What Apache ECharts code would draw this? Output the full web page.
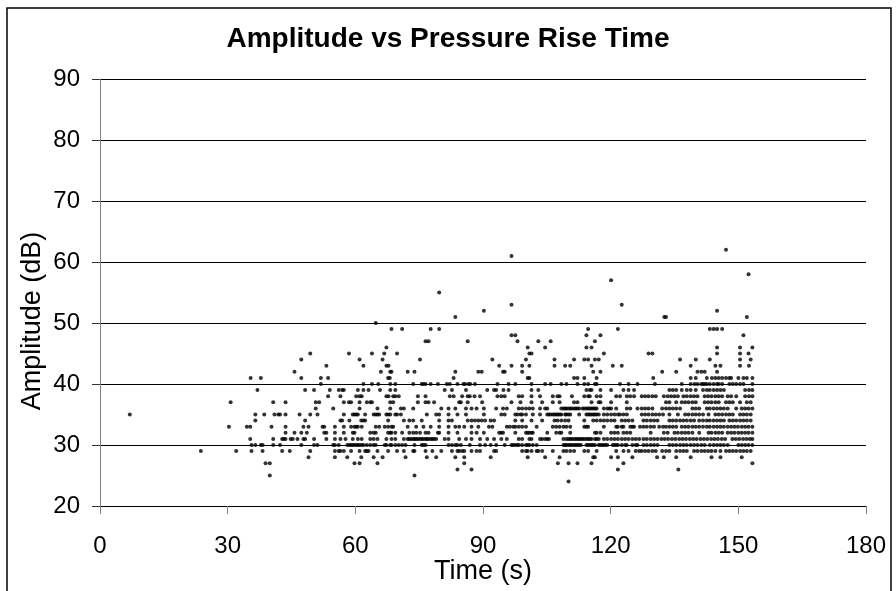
<!DOCTYPE html>
<html>
<head>
<meta charset="utf-8">
<script src="https://cdn.jsdelivr.net/npm/echarts@6/dist/echarts.min.js"></script>
<style>
html,body{margin:0;padding:0;background:#fff;}
#chart{width:896px;height:591px;}
</style>
</head>
<body>
<div id="chart"></div>
<script>
// Time (s) values of the points, one array per amplitude level (dB)
const t24 = [110.1];
const t25 = [39.9, 73.9];
const t26 = [84.0, 87.3, 121.7, 135.9];
const t27 = [38.9, 39.9, 59.8, 61.0, 65.2, 85.6, 107.6, 110.1, 112.2, 115.5, 123.0, 153.3];
const t28 = [49.0, 55.2, 58.1, 61.4, 64.3, 66.4, 71.8, 76.8, 79.0, 83.5, 85.6, 91.8, 100.5, 104.6, 108.0, 115.9, 116.3, 120.1, 121.7, 125.1, 130.9, 132.5, 135.4, 138.8, 143.7, 145.8, 150.8];
const t29 = [23.7, 32.0, 35.6, 38.2, 42.8, 44.6, 49.4, 55.2, 56.1, 56.5, 57.3, 59.0, 61.0, 62.3, 62.7, 63.1, 65.2, 67.7, 69.8, 71.4, 73.6, 73.9, 76.5, 78.1, 80.2, 82.7, 84.0, 84.4, 85.1, 85.6, 87.3, 88.5, 89.3, 92.6, 93.1, 99.2, 100.1, 100.5, 101.4, 102.6, 103.0, 103.9, 106.4, 108.9, 109.6, 110.5, 111.4, 113.8, 114.7, 116.7, 121.3, 123.0, 124.2, 125.9, 126.7, 127.3, 128.1, 128.9, 129.8, 130.6, 132.1, 133.0, 133.8, 135.4, 136.3, 137.1, 137.9, 139.6, 140.4, 141.3, 142.1, 142.9, 143.7, 144.6, 145.8, 147.1, 147.9, 148.7, 149.5, 150.4, 151.2, 152.0, 152.9];
const t30 = [35.6, 36.5, 37.8, 38.2, 40.7, 42.3, 47.3, 50.3, 51.1, 54.8, 55.2, 56.1, 58.1, 58.6, 59.0, 59.4, 59.8, 60.2, 60.6, 61.0, 61.5, 61.9, 62.7, 63.5, 64.3, 64.8, 66.9, 67.3, 68.2, 68.5, 69.4, 70.2, 71.0, 71.8, 73.9, 75.6, 76.0, 76.5, 81.9, 82.7, 83.5, 84.0, 84.8, 86.9, 89.3, 90.5, 91.8, 93.1, 95.1, 96.7, 97.1, 97.6, 98.1, 98.4, 99.2, 100.1, 100.5, 100.9, 101.7, 102.6, 108.9, 109.3, 109.6, 110.1, 110.5, 110.9, 111.4, 111.8, 112.2, 112.6, 113.0, 114.3, 114.7, 115.1, 115.5, 115.9, 116.3, 117.2, 117.6, 118.0, 118.4, 118.8, 119.2, 120.5, 120.9, 121.3, 121.7, 122.6, 123.4, 123.8, 125.1, 125.9, 126.3, 127.7, 128.5, 129.4, 130.2, 131.0, 133.8, 134.6, 135.4, 136.3, 137.1, 137.9, 138.8, 139.6, 140.4, 141.3, 142.1, 143.3, 144.2, 145.0, 145.8, 146.6, 147.5, 150.0, 150.8, 151.6, 152.4, 153.3];
const t31 = [35.3, 40.7, 42.8, 43.2, 43.6, 44.8, 45.3, 46.4, 47.8, 48.2, 50.3, 53.2, 55.2, 56.5, 57.7, 59.4, 60.6, 61.5, 63.5, 64.3, 65.2, 67.3, 68.5, 69.4, 71.4, 72.3, 72.7, 73.1, 73.6, 73.9, 74.3, 74.7, 75.2, 75.6, 76.0, 76.5, 76.8, 77.2, 77.7, 78.1, 78.5, 79.0, 81.0, 81.9, 84.4, 86.0, 87.3, 89.3, 91.0, 92.6, 94.3, 95.6, 98.4, 99.2, 100.9, 101.4, 103.4, 103.9, 104.6, 105.1, 105.5, 108.9, 109.6, 110.1, 110.5, 110.9, 111.4, 111.8, 112.2, 112.6, 113.0, 113.4, 113.8, 114.3, 114.7, 115.1, 115.5, 116.3, 116.7, 117.2, 118.4, 119.2, 120.1, 120.9, 121.7, 122.6, 123.4, 124.2, 125.1, 125.9, 126.7, 127.7, 128.5, 129.4, 130.2, 131.0, 131.9, 132.7, 133.5, 134.4, 135.2, 136.1, 136.9, 137.7, 138.6, 139.4, 140.2, 141.1, 141.9, 142.7, 143.6, 144.4, 145.2, 146.1, 146.9, 148.6, 149.4, 150.2, 151.1, 151.9, 152.7, 153.3];
const t32 = [43.6, 45.7, 47.3, 48.6, 52.7, 53.2, 55.2, 57.3, 59.4, 59.8, 63.5, 64.3, 64.8, 67.7, 68.2, 68.5, 69.4, 71.0, 72.7, 73.6, 74.3, 75.2, 76.5, 77.2, 79.4, 79.7, 81.9, 84.0, 87.3, 88.5, 90.2, 93.8, 94.3, 94.7, 97.6, 100.1, 100.5, 100.9, 101.4, 101.7, 105.1, 107.2, 108.0, 108.4, 110.5, 116.3, 116.7, 117.6, 120.1, 120.9, 121.7, 123.0, 123.8, 124.6, 129.4, 132.5, 133.4, 135.0, 135.8, 136.7, 137.5, 138.3, 139.2, 140.8, 143.0, 143.7, 144.6, 145.4, 146.2, 147.5, 148.3, 149.1, 150.0, 150.8, 151.6, 152.4, 153.3];
const t33 = [30.3, 34.5, 35.3, 40.3, 43.6, 47.8, 49.0, 52.3, 52.7, 55.2, 57.3, 59.0, 59.8, 60.2, 60.6, 61.5, 64.8, 65.6, 66.9, 67.7, 68.5, 68.9, 72.3, 74.3, 76.0, 77.7, 79.7, 81.9, 83.5, 84.4, 85.6, 87.3, 88.9, 91.4, 92.2, 95.6, 96.3, 97.1, 97.6, 98.4, 99.2, 100.1, 102.6, 106.4, 107.2, 108.0, 108.9, 109.6, 110.5, 113.8, 114.3, 114.7, 118.4, 121.3, 121.7, 122.6, 123.0, 124.6, 125.1, 125.5, 126.9, 127.7, 128.5, 129.4, 130.2, 131.4, 132.3, 133.0, 133.8, 134.6, 135.4, 136.7, 137.5, 138.3, 139.2, 140.0, 140.8, 141.7, 142.6, 143.3, 144.2, 145.0, 145.8, 146.6, 147.5, 148.3, 149.1, 149.9, 150.8, 151.6, 152.4, 153.3];
const t34 = [36.5, 48.2, 56.5, 56.9, 58.6, 61.4, 61.9, 62.3, 67.7, 71.4, 72.7, 73.6, 75.6, 79.7, 81.9, 82.7, 86.4, 87.3, 88.1, 88.9, 89.7, 90.5, 91.8, 92.6, 97.6, 99.2, 101.4, 103.9, 106.8, 107.5, 108.4, 109.3, 110.1, 113.8, 115.9, 116.7, 117.6, 118.4, 119.2, 120.1, 120.9, 122.6, 123.4, 124.2, 125.1, 127.7, 128.5, 129.4, 130.2, 131.0, 133.8, 134.6, 135.4, 136.3, 137.1, 137.9, 138.8, 139.6, 140.8, 141.7, 142.6, 143.3, 144.2, 145.0, 145.8, 146.6, 147.9, 148.7, 149.5, 150.4, 151.2, 152.0, 152.9];
const t35 = [7.0, 36.5, 38.6, 41.0, 41.9, 42.3, 43.6, 46.9, 49.4, 51.1, 57.3, 59.4, 59.8, 60.2, 60.6, 62.3, 64.3, 64.8, 65.2, 65.6, 67.3, 67.7, 68.2, 69.4, 69.8, 70.7, 76.8, 79.0, 79.7, 81.9, 84.0, 86.0, 90.2, 94.3, 95.1, 97.6, 98.1, 98.8, 99.2, 100.1, 101.7, 103.4, 105.1, 105.5, 105.9, 106.4, 106.8, 107.2, 107.6, 108.0, 108.4, 109.3, 109.6, 110.1, 110.5, 112.6, 114.3, 114.7, 115.1, 115.5, 115.9, 116.3, 116.7, 117.2, 118.4, 119.2, 120.1, 120.9, 121.7, 122.2, 123.0, 123.8, 127.3, 128.1, 128.9, 129.8, 130.6, 131.4, 132.3, 133.8, 135.8, 137.5, 138.3, 139.2, 140.0, 140.8, 141.7, 143.0, 144.6, 145.4, 146.2, 147.1, 147.9, 148.7, 150.4, 151.2, 152.0, 152.9];
const t36 = [50.7, 54.8, 61.0, 65.2, 68.2, 70.7, 71.4, 73.6, 80.2, 81.9, 83.5, 86.0, 87.3, 88.5, 90.2, 93.1, 94.7, 95.6, 98.4, 99.2, 100.1, 100.9, 101.7, 103.4, 104.6, 105.1, 108.4, 108.9, 109.3, 109.6, 110.1, 110.5, 110.9, 111.4, 111.8, 112.2, 112.6, 113.4, 113.8, 114.3, 114.7, 115.1, 115.5, 115.9, 116.3, 116.7, 118.4, 119.2, 119.7, 120.1, 121.3, 123.8, 124.6, 126.3, 127.3, 128.1, 128.9, 129.8, 132.1, 133.0, 133.8, 134.6, 135.4, 136.3, 139.2, 140.0, 140.8, 142.6, 143.3, 144.2, 145.0, 145.8, 146.6, 147.5, 149.5, 150.8, 151.6, 152.4, 153.3];
const t37 = [30.7, 40.7, 43.6, 50.7, 51.5, 57.3, 58.5, 59.0, 61.0, 62.7, 63.5, 63.9, 68.2, 68.9, 74.7, 76.5, 77.2, 78.5, 84.4, 84.8, 86.4, 89.8, 96.7, 98.8, 101.4, 103.9, 106.4, 108.0, 111.4, 112.2, 115.5, 117.2, 117.6, 120.1, 123.8, 133.0, 133.8, 135.4, 136.7, 137.5, 138.3, 139.2, 140.0, 142.1, 142.9, 143.7, 144.6, 145.4, 147.1, 147.9, 148.7, 150.4, 152.0, 152.9];
const t38 = [53.6, 56.5, 60.2, 61.0, 61.5, 67.3, 67.8, 68.9, 69.4, 70.2, 74.7, 76.5, 82.2, 83.1, 85.1, 86.4, 86.9, 88.0, 89.3, 93.4, 94.3, 95.1, 98.4, 99.2, 101.4, 103.4, 106.4, 107.5, 108.0, 110.9, 113.8, 114.7, 115.1, 116.7, 117.6, 121.3, 122.2, 123.8, 124.6, 125.5, 127.3, 128.1, 128.9, 129.8, 130.6, 132.5, 133.4, 134.2, 135.0, 135.8, 137.1, 137.9, 138.8, 139.6, 140.4, 142.1, 142.9, 143.7, 144.6, 145.4, 146.2, 147.5, 148.3, 149.5, 151.6, 152.5, 153.3];
const t39 = [37.0, 48.2, 50.3, 54.0, 56.1, 56.9, 57.3, 60.6, 61.9, 63.1, 65.8, 68.2, 69.4, 81.0, 82.7, 86.0, 91.0, 92.6, 93.1, 94.8, 96.0, 101.4, 103.0, 114.3, 115.1, 115.5, 117.6, 120.1, 123.0, 124.2, 125.5, 133.8, 134.6, 135.4, 136.7, 137.9, 138.8, 140.0, 141.7, 142.6, 143.3, 144.2, 145.0, 145.8, 146.6, 151.6, 152.5, 153.3];
const t40 = [51.9, 61.9, 63.9, 65.4, 68.2, 69.4, 73.6, 75.6, 76.0, 76.5, 77.7, 79.4, 81.5, 82.2, 84.0, 85.4, 85.8, 86.6, 87.0, 88.1, 93.4, 96.0, 97.6, 101.4, 104.6, 105.9, 108.4, 109.6, 112.2, 113.8, 114.7, 116.3, 116.7, 122.2, 124.2, 126.3, 130.4, 136.7, 138.8, 139.7, 140.4, 141.3, 141.7, 142.1, 142.6, 143.3, 144.2, 145.0, 145.4, 146.2, 147.9, 148.7, 149.5, 150.4, 151.2, 153.3];
const t41 = [35.4, 37.8, 47.3, 51.9, 53.6, 67.7, 68.1, 83.1, 100.5, 100.9, 111.4, 112.2, 113.8, 116.7, 130.0, 138.8, 140.0, 142.6, 143.8, 144.6, 145.4, 146.2, 147.1, 147.9, 148.3, 150.0, 151.2, 152.0, 153.3];
const t42 = [45.7, 66.0, 68.2, 68.5, 72.3, 73.9, 83.5, 88.9, 89.7, 94.7, 95.1, 99.2, 115.9, 117.6, 132.1, 135.4, 140.4, 141.3, 142.1, 145.0];
const t43 = [53.2, 61.9, 67.3, 67.8, 93.8, 96.7, 99.2, 100.9, 106.8, 109.3, 110.5, 115.5, 120.5, 122.6, 138.8, 144.6, 145.8, 150.4, 152.5];
const t44 = [47.3, 61.0, 66.4, 75.2, 92.2, 100.1, 106.8, 111.4, 113.8, 114.7, 116.3, 117.2, 136.3, 140.0, 143.3, 150.4, 152.9];
const t45 = [49.4, 58.5, 63.9, 66.8, 69.8, 100.9, 101.4, 118.4, 128.9, 129.8, 145.0, 150.4, 152.4];
const t46 = [67.3, 100.5, 104.6, 114.3, 115.5, 145.0, 150.4, 153.3];
const t47 = [76.5, 77.2, 86.4, 98.1, 103.0, 105.9, 116.3];
const t48 = [96.7, 97.6, 114.3, 117.6, 151.2];
const t49 = [68.5, 71.0, 77.7, 79.7, 114.7, 121.7, 143.3, 144.2, 145.0, 146.2];
const t50 = [64.8];
const t51 = [83.5, 132.6, 133.0, 152.0];
const t52 = [90.2, 145.0];
const t53 = [96.7, 122.6];
const t55 = [79.7];
const t57 = [120.1];
const t58 = [152.4];
const t61 = [96.7];
const t62 = [147.1];

const levels = [
  [24, t24], [25, t25], [26, t26], [27, t27], [28, t28], [29, t29], [30, t30],
  [31, t31], [32, t32], [33, t33], [34, t34], [35, t35], [36, t36], [37, t37],
  [38, t38], [39, t39], [40, t40], [41, t41], [42, t42], [43, t43], [44, t44],
  [45, t45], [46, t46], [47, t47], [48, t48], [49, t49], [50, t50], [51, t51],
  [52, t52], [53, t53], [55, t55], [57, t57], [58, t58], [61, t61], [62, t62]
];

const xTicks = [0, 30, 60, 90, 120, 150, 180];
const yTicks = [20, 30, 40, 50, 60, 70, 80, 90];

const points = [];
levels.forEach(([amp, times]) => times.forEach(t => points.push([t, amp])));

const FONT = '"Liberation Sans", Arial, sans-serif';
const chart = echarts.init(document.getElementById('chart'), null, {renderer: 'canvas'});
chart.setOption({
  animation: false,
  backgroundColor: '#fff',
  title: {
    text: 'Amplitude vs Pressure Rise Time',
    left: 'center',
    top: 20,
    textStyle: {fontFamily: FONT, fontSize: 28, fontWeight: 'bold', color: '#000'}
  },
  grid: {left: 100, right: 30, top: 79, bottom: 85, containLabel: false},
  xAxis: {
    type: 'value',
    min: xTicks[0], max: xTicks[xTicks.length - 1], interval: 30,
    axisLine: {show: true, lineStyle: {color: '#000', width: 1}},
    axisTick: {show: true, length: 8, inside: false, lineStyle: {color: '#808080'}},
    axisLabel: {fontFamily: FONT, fontSize: 24, color: '#000', margin: 28},
    splitLine: {show: false}
  },
  yAxis: {
    type: 'value',
    min: yTicks[0], max: yTicks[yTicks.length - 1], interval: 10,
    axisLine: {show: true, lineStyle: {color: '#808080', width: 1}},
    axisTick: {show: true, length: 8, inside: false, lineStyle: {color: '#333'}},
    axisLabel: {fontFamily: FONT, fontSize: 24, color: '#000', margin: 20},
    splitLine: {show: true, lineStyle: {color: '#000', width: 1}}
  },
  graphic: [
    {type: 'rect', shape: {x: 7, y: 8, width: 884, height: 640}, style: {fill: 'none', stroke: '#000', lineWidth: 1.5}, silent: true, z: 100},
    {type: 'text', x: 33, y: 321, rotation: Math.PI / 2,
     style: {text: 'Amplitude (dB)', fontFamily: FONT, fontSize: 27, fill: '#000', align: 'center', verticalAlign: 'middle'}},
    {type: 'text', x: 483, y: 572,
     style: {text: 'Time (s)', fontFamily: FONT, fontSize: 27, fill: '#000', align: 'center', verticalAlign: 'middle'}}
  ],
  series: [{
    type: 'scatter',
    data: points,
    symbol: 'circle',
    symbolSize: 4,
    itemStyle: {color: '#000'},
    clip: false
  }]
});
</script>
</body>
</html>
